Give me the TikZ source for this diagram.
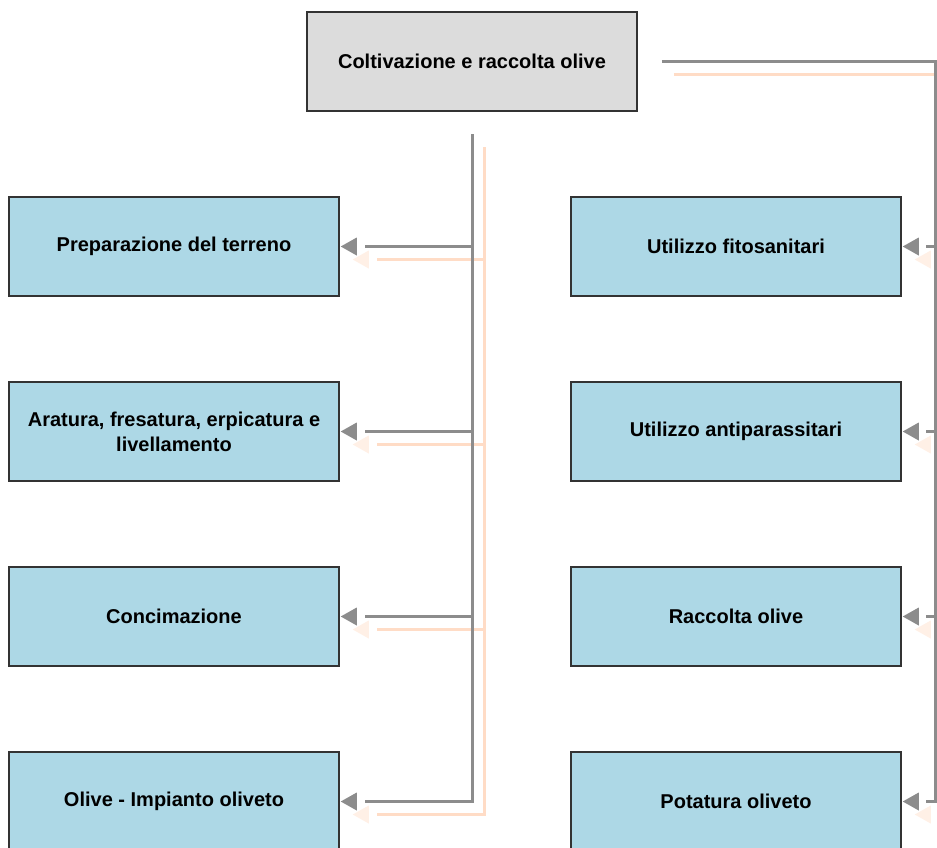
\documentclass[tikz,border=0pt]{standalone}
\usepackage{fontspec}
\setmainfont{Liberation Sans}
\usepackage{xcolor}
\usetikzlibrary{
    arrows.meta,
    positioning
}
\definecolor{boxblue}{HTML}{ADD8E6}
\definecolor{boxgray}{HTML}{DCDCDC}
\definecolor{boxline}{HTML}{333333}
\definecolor{linkgray}{HTML}{8C8C8C}
\definecolor{shadeline}{HTML}{FFDCC6}
\definecolor{shadetip}{HTML}{FFF0E6}

\begin{document}
\begin{tikzpicture}[x=1pt, y=-1pt,
    box/.style={draw=boxline, line width=1.5pt, fill=boxblue,
        minimum width=330pt, minimum height=99pt, align=center,
        font=\fontsize{20}{25}\selectfont\bfseries},
    link/.style={draw=linkgray, line width=3pt},
    linktip/.style={-{Triangle[length=16pt, width=18pt]}, linkgray, line width=0pt},
    shade/.style={draw=shadeline, line width=3pt},
    shadetipstyle/.style={-{Triangle[length=16pt, width=18pt]}, shadetip, line width=0pt}
]
                                \useasboundingbox (0, 0) rectangle (937, 847);
                                \fill[white] (0, 0) rectangle (937, 847);
                                % boxes
                                \node[box, fill=boxgray] (root) at (472, 61.5) {Coltivazione e raccolta olive};
                                \node[box] (l1) at (174, 246.5) {Preparazione del terreno};
                                \node[box] (l2) at (174, 431.5) {Aratura, fresatura, erpicatura e\\livellamento};
                                \node[box] (l3) at (174, 616.5) {Concimazione};
                                \node[box] (l4) at (174, 801.5) {Olive - Impianto oliveto};
                                \node[box] (r1) at (736, 246.5) {Utilizzo fitosanitari};
                                \node[box] (r2) at (736, 431.5) {Utilizzo antiparassitari};
                                \node[box] (r3) at (736, 616.5) {Raccolta olive};
                                \node[box] (r4) at (736, 801.5) {Potatura oliveto};
                                % hubs
                                \coordinate (hub) at (472, 134);
                                \coordinate (rail) at (935, 62);
                                \coordinate (railstart) at ([xshift=24pt]root.east);
                                % shadows
                                \begin{scope}[transform canvas={xshift=12pt, yshift=-13pt}]
                                \draw[shade] (hub) |- ([xshift=25pt]l4.east);
                                \foreach \b in {l1, l2, l3}
                                    \draw[shade] (hub |- \b.east) -- ([xshift=25pt]\b.east);
                                \draw[shade] (railstart) -| (rail) |- ([xshift=24pt]r4.east);
                                \foreach \b in {r1, r2, r3}
                                    \draw[shade] (rail |- \b.east) -- ([xshift=24pt]\b.east);
                                \foreach \b in {l1, l2, l3, l4, r1, r2, r3, r4}
                                    \draw[shadetipstyle] ([xshift=17pt]\b.east) -- ([xshift=1pt]\b.east);
                                \end{scope}
                                % connectors
                                \draw[link] (hub) |- ([xshift=25pt]l4.east);
                                \foreach \b in {l1, l2, l3}
                                    \draw[link] (hub |- \b.east) -- ([xshift=25pt]\b.east);
                                \draw[link] (railstart) -| (rail) |- ([xshift=24pt]r4.east);
                                \foreach \b in {r1, r2, r3}
                                    \draw[link] (rail |- \b.east) -- ([xshift=24pt]\b.east);
                                \foreach \b in {l1, l2, l3, l4, r1, r2, r3, r4}
                                    \draw[linktip] ([xshift=17pt]\b.east) -- ([xshift=1pt]\b.east);
                            \end{tikzpicture}
\end{document}
